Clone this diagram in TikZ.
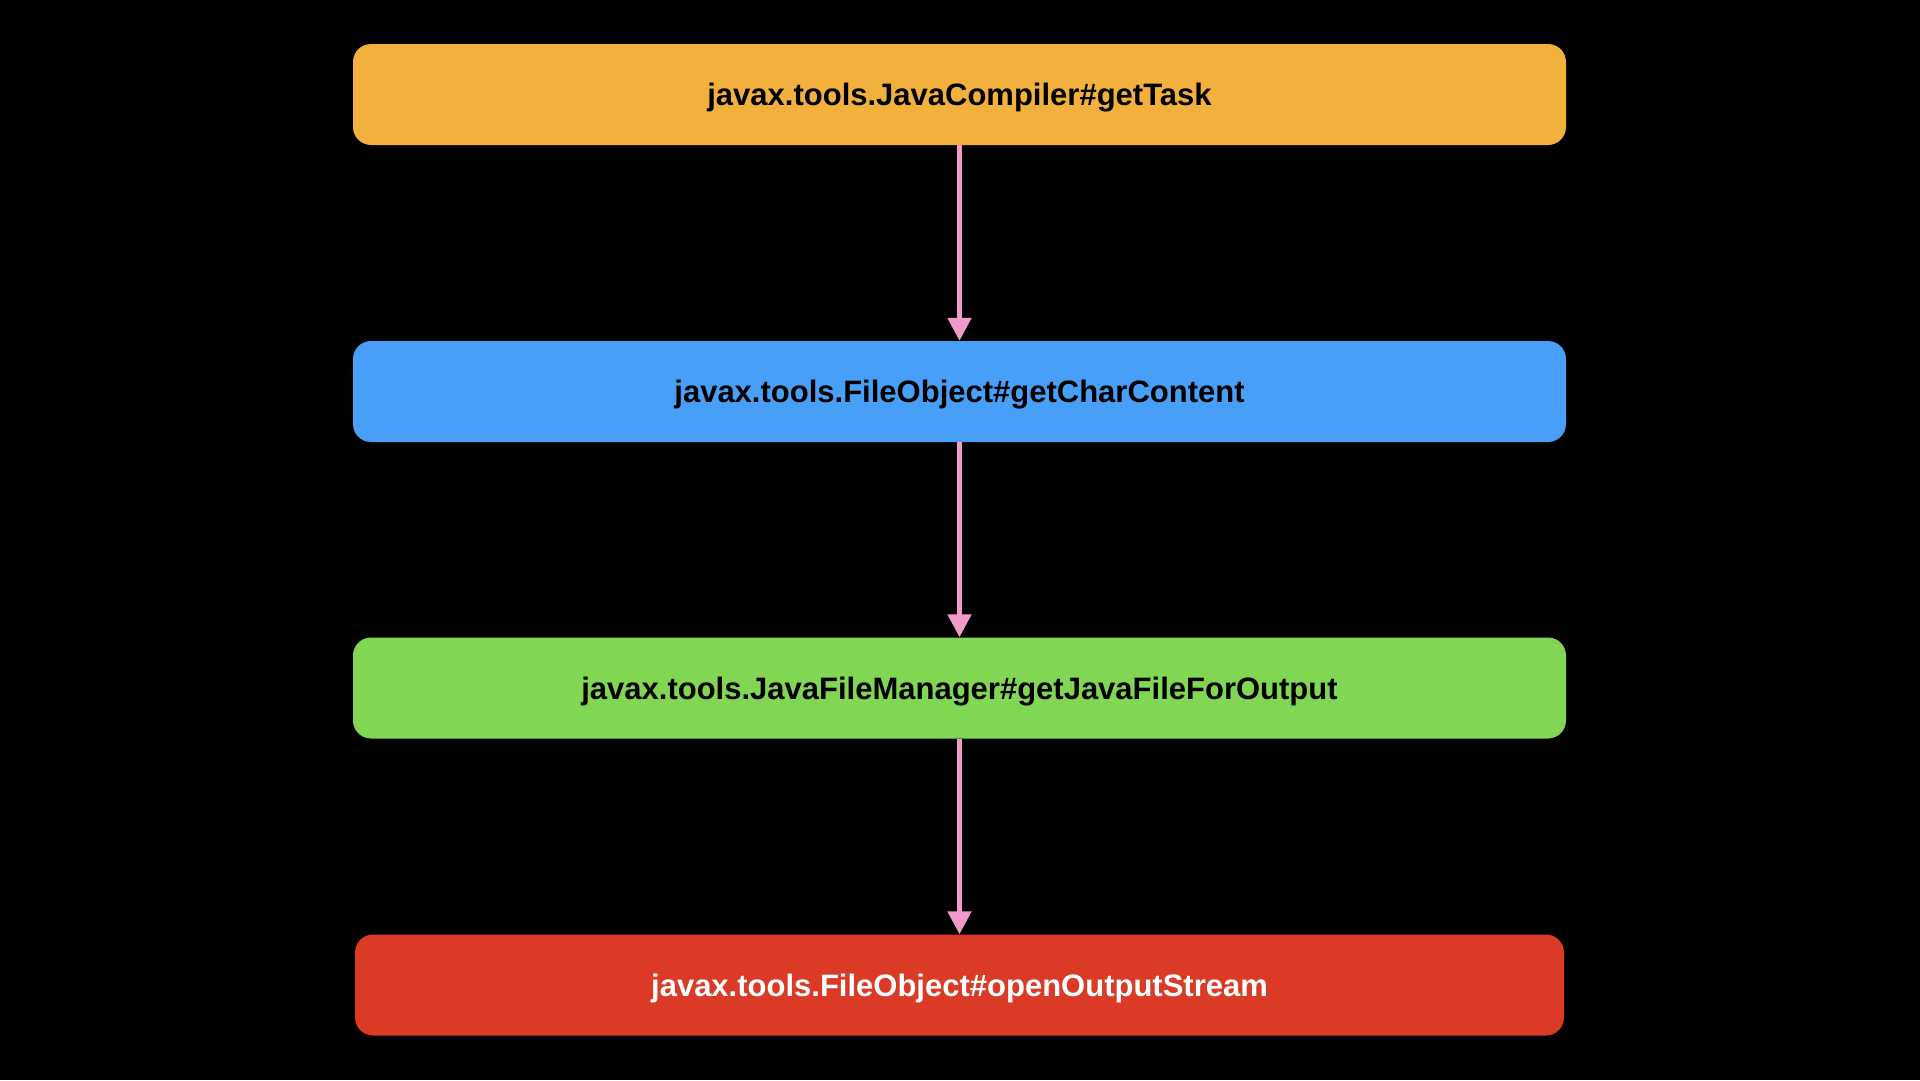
\documentclass[tikz,border=0pt]{standalone}
\usepackage{fontspec}
\setmainfont{Liberation Sans}
\usetikzlibrary{arrows.meta}
\definecolor{cOrange}{HTML}{F2B03D}
\definecolor{cBlue}{HTML}{479FF8}
\definecolor{cGreen}{HTML}{81D653}
\definecolor{cRed}{HTML}{DA3A26}
\definecolor{cPink}{HTML}{F19BCB}
\tikzset{
  box/.style={rectangle, rounded corners=18pt, minimum height=101pt, inner sep=0pt,
    text height=22.5pt, text depth=0pt,
    font=\fontsize{31}{36}\selectfont\bfseries},
  flow/.style={draw=cPink, line width=5pt, -{Triangle[width=23pt,length=23pt]}}
}
\begin{document}
\begin{tikzpicture}[x=1pt,y=-1pt]
\fill[black] (0,0) rectangle (1920,1080);
\useasboundingbox (0,0) rectangle (1920,1080);
\node[box, fill=cOrange, text=black, minimum width=1213pt] (a) at (959.5,94.5) {javax.tools.JavaCompiler\#getTask};
\node[box, fill=cBlue, text=black, minimum width=1213pt] (b) at (959.5,391.5) {javax.tools.FileObject\#getCharContent};
\node[box, fill=cGreen, text=black, minimum width=1213pt] (c) at (959.5,688) {javax.tools.JavaFileManager\#getJavaFileForOutput};
\node[box, fill=cRed, text=white, minimum width=1209pt] (d) at (959.5,985) {javax.tools.FileObject\#openOutputStream};
\draw[flow] (a.south) -- (b.north);
\draw[flow] (b.south) -- (c.north);
\draw[flow] (c.south) -- (d.north);
\end{tikzpicture}
\end{document}
